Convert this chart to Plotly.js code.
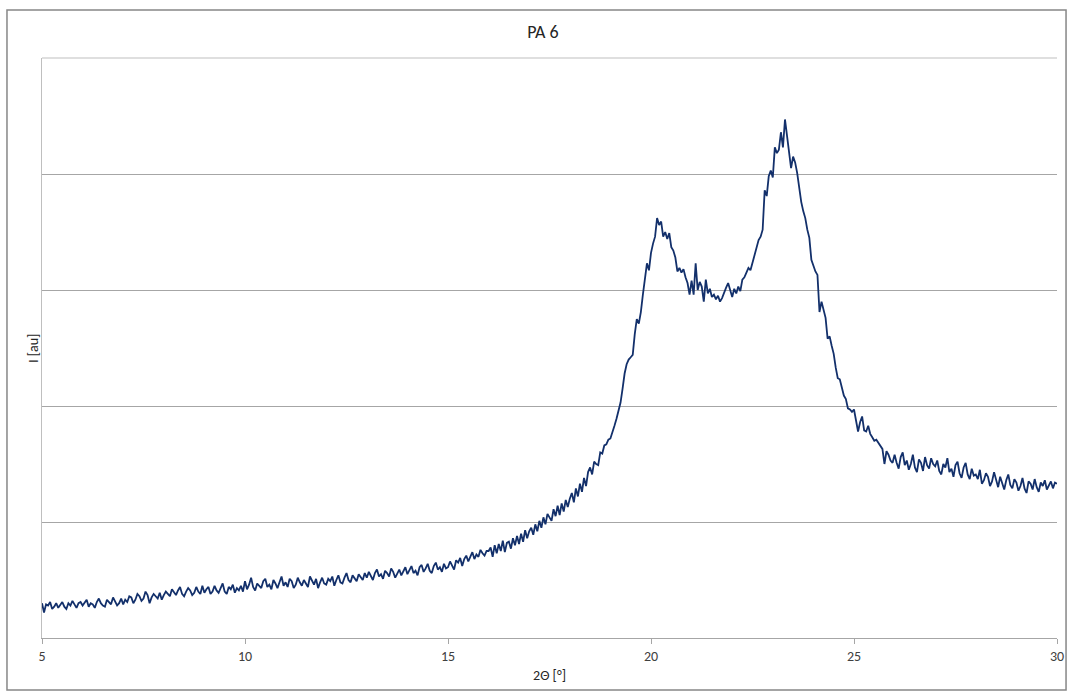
<!DOCTYPE html>
<html>
<head>
<meta charset="utf-8">
<script src="https://cdn.plot.ly/plotly-3.0.1.min.js"></script>
<style>
  html, body { margin: 0; padding: 0; background: #ffffff; }
  #chart { width: 1073px; height: 697px; }
</style>
</head>
<body>
<div id="chart"></div>
<script>
// PA 6 diffractogram, 2θ from 5° to 30° sampled every 0.05°
const startAngle = 5;
const angleStep = 0.05;

// Intensity readings [a.u.], one array per degree of 2θ
const i05 = [30, 22, 29, 28, 31, 25, 27, 30, 26, 29, 31, 27, 25, 30, 28, 32, 29, 26, 30, 31];
const i06 = [28, 31, 33, 27, 30, 29, 26, 31, 34, 30, 28, 27, 33, 31, 29, 35, 31, 28, 30, 34];
const i07 = [29, 33, 31, 36, 35, 30, 33, 38, 36, 32, 34, 40, 37, 30, 35, 38, 36, 34, 39, 33];
const i08 = [37, 40, 38, 36, 42, 39, 37, 41, 44, 38, 36, 40, 43, 41, 37, 39, 44, 40, 38, 45];
const i09 = [39, 42, 44, 38, 40, 45, 41, 39, 43, 47, 40, 38, 44, 42, 46, 39, 43, 41, 45, 40];
const i10 = [49, 42, 46, 52, 44, 41, 47, 45, 43, 49, 51, 44, 46, 42, 50, 47, 43, 48, 53, 45];
const i11 = [48, 44, 51, 49, 43, 46, 52, 48, 45, 50, 47, 44, 53, 49, 46, 51, 43, 48, 52, 47];
const i12 = [46, 51, 49, 53, 45, 50, 54, 48, 47, 52, 56, 50, 48, 54, 51, 49, 55, 52, 50, 56];
const i13 = [52, 57, 54, 50, 56, 59, 53, 55, 51, 58, 56, 53, 60, 57, 52, 55, 59, 54, 57, 61];
const i14 = [55, 59, 62, 56, 58, 54, 61, 63, 57, 60, 64, 58, 56, 62, 65, 59, 61, 57, 64, 60];
const i15 = [61, 66, 63, 59, 67, 65, 69, 62, 68, 71, 66, 70, 74, 68, 72, 70, 76, 73, 71, 75];
const i16 = [75, 78, 70, 80, 73, 81, 75, 84, 74, 82, 83, 77, 86, 80, 88, 81, 90, 83, 93, 86];
const i17 = [92, 95, 89, 98, 92, 101, 95, 104, 98, 107, 104, 101, 111, 105, 114, 106, 116, 109, 119, 113];
const i18 = [120, 125, 117, 129, 122, 133, 126, 138, 131, 143, 147, 141, 152, 150, 149, 160, 159, 166, 167, 171];
const i19 = [172, 177, 183, 189, 195, 203, 215, 228, 236, 240, 242, 244, 262, 275, 271, 281, 296, 310, 323, 317];
const i20 = [332, 340, 346, 362, 356, 359, 346, 350, 344, 349, 337, 334, 328, 316, 319, 315, 318, 311, 306, 296];
const i21 = [308, 296, 323, 300, 307, 303, 290, 309, 297, 301, 294, 296, 292, 295, 290, 293, 298, 302, 306, 300];
const i22 = [294, 301, 297, 303, 299, 309, 311, 315, 319, 317, 324, 330, 337, 343, 346, 352, 386, 381, 398, 403];
const i23 = [397, 423, 418, 421, 436, 423, 447, 432, 418, 405, 415, 410, 401, 388, 376, 368, 362, 352, 345, 326];
const i24 = [320, 316, 313, 281, 290, 284, 276, 258, 260, 252, 245, 233, 224, 223, 216, 209, 206, 198, 197, 195];
const i25 = [197, 189, 178, 186, 191, 179, 178, 183, 176, 173, 170, 171, 168, 166, 163, 150, 161, 158, 153, 151];
const i26 = [158, 151, 146, 156, 160, 149, 153, 145, 150, 158, 147, 143, 154, 151, 144, 156, 149, 146, 155, 150];
const i27 = [148, 153, 144, 141, 150, 147, 155, 143, 146, 139, 149, 152, 142, 138, 147, 151, 141, 137, 146, 140];
const i28 = [141, 137, 145, 133, 136, 142, 139, 131, 135, 143, 137, 130, 139, 134, 128, 136, 141, 132, 129, 137];
const i29 = [134, 127, 131, 138, 129, 125, 135, 133, 128, 137, 130, 126, 134, 131, 136, 128, 132, 135, 129, 134];
const i30 = [133];

const intensity = [].concat(i05, i06, i07, i08, i09, i10, i11, i12, i13, i14, i15, i16, i17,
  i18, i19, i20, i21, i22, i23, i24, i25, i26, i27, i28, i29, i30);

const xTicks = [5, 10, 15, 20, 25, 30];

const fontStack = 'Carlito, Lato, "Open Sans", "DejaVu Sans", sans-serif';
const gridGray = '#a6a6a6';

const trace = {
  type: 'scatter',
  mode: 'lines',
  x0: startAngle,
  dx: angleStep,
  y: intensity,
  line: { color: '#13306b', width: 1.8 },
  hoverinfo: 'x+y'
};

const layout = {
  width: 1073,
  height: 697,
  margin: { l: 42, r: 16, t: 58, b: 59, pad: 0 },
  paper_bgcolor: '#ffffff',
  plot_bgcolor: '#ffffff',
  showlegend: false,
  font: { family: fontStack, size: 14, color: '#404040' },
  title: {
    text: 'PA 6',
    font: { family: fontStack, size: 18, color: '#262626' },
    xref: 'container', x: 0.506, xanchor: 'center',
    yref: 'container', y: 0.954, yanchor: 'middle'
  },
  xaxis: {
    range: [5, 30],
    tickmode: 'array',
    tickvals: xTicks,
    ticktext: xTicks.map(String),
    ticks: 'outside',
    ticklen: 5,
    tickwidth: 1,
    tickcolor: gridGray,
    showline: true,
    linecolor: gridGray,
    linewidth: 1,
    showgrid: false,
    zeroline: false,
    tickfont: { family: fontStack, size: 14, color: '#404040' },
    title: {
      text: '2Θ [°]',
      font: { family: fontStack, size: 14, color: '#262626' },
      standoff: 6
    }
  },
  yaxis: {
    range: [0, 500],
    dtick: 100,
    tick0: 0,
    showticklabels: false,
    ticks: '',
    showgrid: true,
    gridcolor: gridGray,
    gridwidth: 1,
    showline: true,
    linecolor: '#bfbfbf',
    linewidth: 1,
    zeroline: false
  },
  annotations: [{
    text: 'I [au]',
    xref: 'paper', yref: 'paper',
    x: -0.0089, y: 0.5,
    xanchor: 'center', yanchor: 'middle',
    textangle: -90,
    showarrow: false,
    font: { family: fontStack, size: 14, color: '#262626' }
  }],
  shapes: [{
    // outer chart frame
    type: 'rect',
    xref: 'paper', yref: 'paper',
    x0: -0.0345, x1: 1.0089,
    y0: -0.0897, y1: 1.0828,
    line: { color: '#878787', width: 1.5 },
    fillcolor: 'rgba(0,0,0,0)',
    layer: 'below'
  }, {
    // top edge of the plot area
    type: 'line',
    xref: 'paper', yref: 'paper',
    x0: 0, x1: 1, y0: 1, y1: 1,
    line: { color: '#bfbfbf', width: 1 },
    layer: 'below'
  }]
};

Plotly.newPlot('chart', [trace], layout, { displayModeBar: false, staticPlot: true });
</script>
</body>
</html>
